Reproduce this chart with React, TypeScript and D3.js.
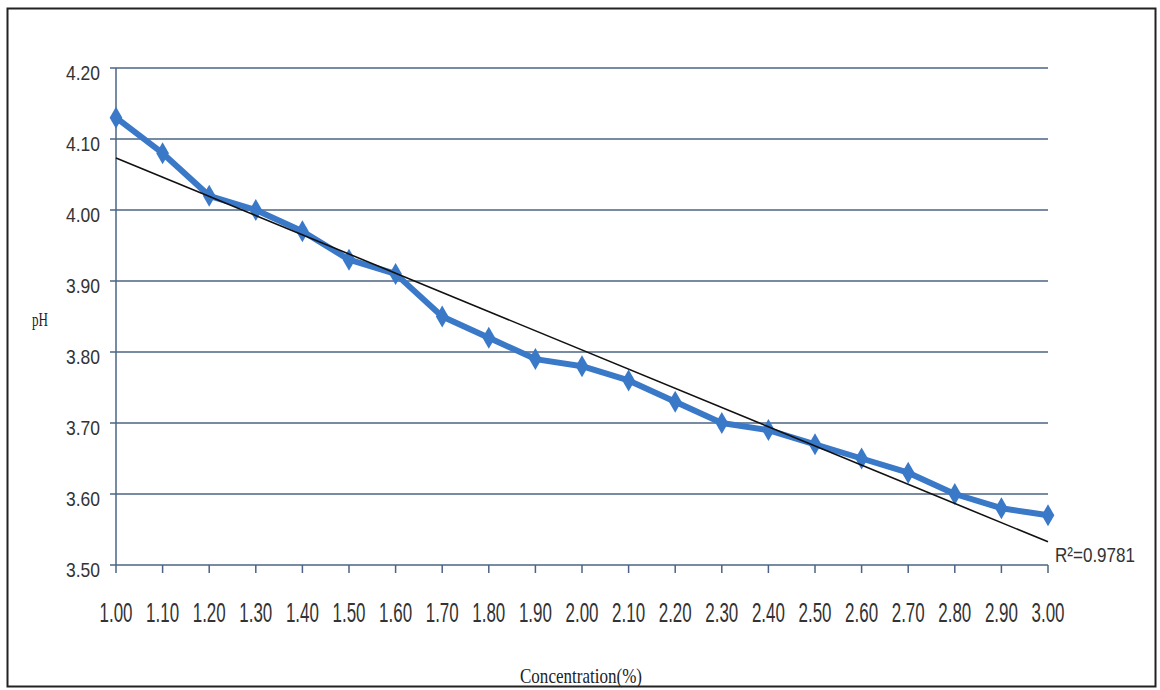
import React from "react";
import * as d3 from "d3";

const concentrations = [1.0, 1.1, 1.2, 1.3, 1.4, 1.5, 1.6, 1.7, 1.8, 1.9, 2.0, 2.1, 2.2, 2.3, 2.4, 2.5, 2.6, 2.7, 2.8, 2.9, 3.0];
const phValues = [4.13, 4.08, 4.02, 4.0, 3.97, 3.93, 3.91, 3.85, 3.82, 3.79, 3.78, 3.76, 3.73, 3.7, 3.69, 3.67, 3.65, 3.63, 3.6, 3.58, 3.57];
const yTicks = [3.5, 3.6, 3.7, 3.8, 3.9, 4.0, 4.1, 4.2];
const r2Label = "R\u00B2=0.9781";

export default function App() {
  const W = 1160, H = 690;
  const x = d3.scaleLinear().domain([1.0, 3.0]).range([116, 1048]);
  const y = d3.scaleLinear().domain([3.5, 4.2]).range([565, 68]);

  const n = concentrations.length;
  const mx = d3.mean(concentrations)!;
  const my = d3.mean(phValues)!;
  let sxy = 0, sxx = 0;
  for (let i = 0; i < n; i++) {
    sxy += (concentrations[i] - mx) * (phValues[i] - my);
    sxx += (concentrations[i] - mx) ** 2;
  }
  const slope = sxy / sxx;
  const intercept = my - slope * mx;
  const x0 = concentrations[0], x1 = concentrations[n - 1];

  const line = d3.line<number>().x((_, i) => x(concentrations[i])).y((d) => y(d));
  const diamond = d3.symbol().type(d3.symbolDiamond).size(140)();

  const grid = "#4d6385";
  const blue = "#3a78c8";
  const sans = "'Liberation Sans', Arial, sans-serif";
  const serif = "'Liberation Serif', 'Times New Roman', serif";

  return (
    <svg width={W} height={H} style={{ position: "absolute", left: 0, top: 0, background: "#fff" }}>
      <rect x={0} y={0} width={W} height={H} fill="#fff" />
      <rect x={7.5} y={8.5} width={1148} height={678} fill="none" stroke="#222" strokeWidth={2} />
      {yTicks.map((t) => (
        <g key={t}>
          <line x1={110} x2={1048} y1={y(t)} y2={y(t)} stroke={grid} strokeWidth={1.5} />
          <text x={66} y={y(t) + 12} fontFamily={sans} fontSize={21} fill="#333" textLength={34} lengthAdjust="spacingAndGlyphs">
            {t.toFixed(2)}
          </text>
        </g>
      ))}
      <line x1={116} x2={116} y1={68} y2={565} stroke={grid} strokeWidth={1.5} />
      {concentrations.map((c) => (
        <g key={c}>
          <line x1={x(c)} x2={x(c)} y1={565} y2={573} stroke={grid} strokeWidth={1.5} />
          <text
            transform={`translate(${x(c) - 16.5},622) scale(1,1.25)`}
            fontFamily={sans}
            fontSize={22}
            fill="#333"
            textLength={33}
            lengthAdjust="spacingAndGlyphs"
          >
            {c.toFixed(2)}
          </text>
        </g>
      ))}
      <path d={line(phValues) || ""} fill="none" stroke={blue} strokeWidth={6} strokeLinejoin="round" />
      {phValues.map((v, i) => (
        <path key={i} d={diamond || ""} transform={`translate(${x(concentrations[i])},${y(v)})`} fill={blue} />
      ))}
      <line
        x1={x(x0)}
        y1={y(intercept + slope * x0)}
        x2={x(x1)}
        y2={y(intercept + slope * x1)}
        stroke="#111"
        strokeWidth={1.6}
      />
      <text x={1055} y={562} fontFamily={sans} fontSize={21} fill="#333" textLength={80} lengthAdjust="spacingAndGlyphs">
        {r2Label}
      </text>
      <text x={40} y={326} textAnchor="middle" fontFamily={serif} fontSize={19} fill="#222" textLength={16} lengthAdjust="spacingAndGlyphs">
        pH
      </text>
      <text x={520} y={683} fontFamily={serif} fontSize={21} fill="#222" textLength={122} lengthAdjust="spacingAndGlyphs">
        Concentration(%)
      </text>
    </svg>
  );
}
